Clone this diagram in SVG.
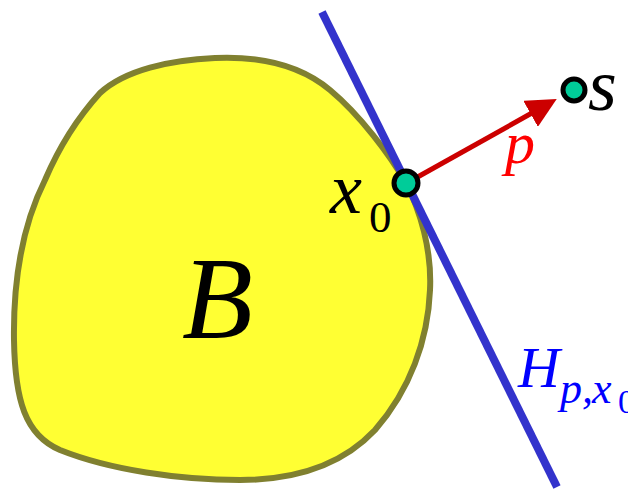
<svg xmlns="http://www.w3.org/2000/svg" width="628" height="489" viewBox="0 0 628 489">
<style>
.pt{fill:#00cc99;stroke:#000;stroke-width:5}
</style>
<defs>
<marker id="ah" markerWidth="6" markerHeight="6" refX="4" refY="3" orient="auto" markerUnits="strokeWidth">
<path d="M0,0 L6,3 L0,6 Z" fill="#cc0000"/>
</marker>
</defs>
<g id="B">
<path d="M 100 93 C 125 70, 170 60, 215 58 C 260 56, 300 65, 330 90 C 360 115, 390 155, 406 183 C 420 210, 432 250, 430 290 C 428 340, 410 390, 375 430 C 345 462, 300 480, 240 480 C 180 480, 110 470, 60 450 C 25 435, 15 400, 14 340 C 13 270, 25 220, 45 180 C 60 145, 80 115, 100 93 Z" fill="#ffff33" stroke="#808030" stroke-width="6"/>
<text font-family="Liberation Serif" font-style="italic" x="182" y="338" font-size="116">B</text>
</g>
<g id="H">
<line x1="322" y1="12" x2="557" y2="487" stroke="#3333cc" stroke-width="8"/>
<text font-family="Liberation Serif" font-style="italic" x="518" y="387" font-size="58" fill="#0000ff">H<tspan font-size="44" x="560" y="403">p</tspan><tspan font-size="44">,</tspan><tspan font-size="44" x="592">x</tspan><tspan font-style="normal" font-size="34" x="618" y="413">0</tspan></text>
</g>
<g id="connectors">
<line x1="414" y1="179" x2="548" y2="104" stroke="#cc0000" stroke-width="5" marker-end="url(#ah)"/>
</g>
<g id="x0">
<circle class="pt" cx="406" cy="183" r="12"/>
<text font-family="Liberation Serif" font-style="italic" x="330" y="213" font-size="72">x</text>
<text font-family="Liberation Serif" x="369" y="232" font-size="45">0</text>
</g>
<g id="s">
<circle class="pt" cx="574" cy="90" r="11"/>
<text font-family="Liberation Serif" font-style="italic" x="588" y="110" font-size="74">s</text>
</g>
<text font-family="Liberation Serif" font-style="italic" x="505" y="163" font-size="60" fill="#ff0000">p</text>
</svg>
